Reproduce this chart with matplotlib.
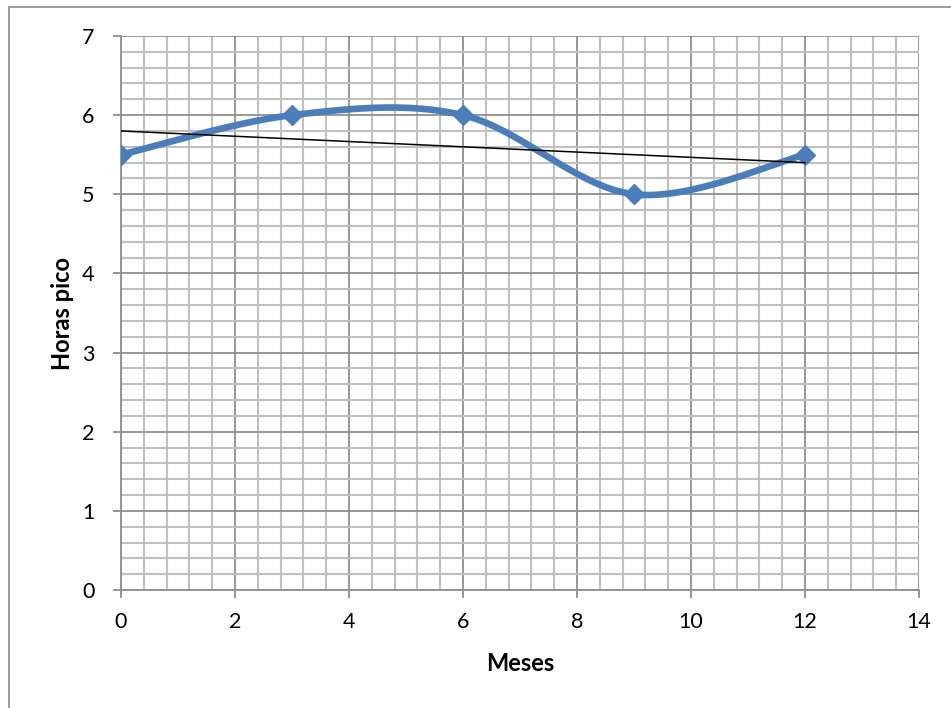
import numpy as np
import matplotlib
matplotlib.use("Agg")
import matplotlib.pyplot as plt
from matplotlib.patches import Rectangle
from matplotlib.ticker import MultipleLocator

meses = [0, 3, 6, 9, 12]
horas = [5.5, 6.0, 6.0, 5.0, 5.5]
x_label = "Meses"
y_label = "Horas pico"

plt.rcParams['font.family'] = ['Lato', 'DejaVu Sans']

W, H = 951, 708
fig = plt.figure(figsize=(W / 100, H / 100), dpi=100)
L, R, T, B = 121, 919, 36, 590
ax = fig.add_axes([L / W, 1 - B / H, (R - L) / W, (B - T) / H])

# figure border (chart area)
fig.patches.append(Rectangle((9 / W, -0.1), 1.2, 1 - 7 / H + 0.1, transform=fig.transFigure,
                             fill=False, edgecolor='#8c8c8c', lw=1.2))


def excel_smooth(xs, ys, n=60):
    P = np.column_stack([xs, ys]).astype(float)
    out = []
    m = len(P)
    for i in range(m - 1):
        p0 = P[i]
        p3 = P[i + 1]
        pm = P[i - 1] if i > 0 else P[i]
        pp = P[i + 2] if i + 2 < m else P[i + 1]
        p1 = p0 + (p3 - pm) / 6.0
        p2 = p3 - (pp - p0) / 6.0
        t = np.linspace(0, 1, n)[:, None]
        seg = ((1 - t) ** 3) * p0 + 3 * ((1 - t) ** 2) * t * p1 + 3 * (1 - t) * t ** 2 * p2 + t ** 3 * p3
        out.append(seg if i == 0 else seg[1:])
    s = np.vstack(out)
    return s[:, 0], s[:, 1]


sx, sy = excel_smooth(meses, horas)
ax.plot(sx, sy, color='#4A7EBB', lw=4.8, solid_capstyle='round', zorder=3)
ax.plot(meses, horas, linestyle='none', marker='D', markersize=10.5,
        color='#4A7EBB', zorder=4)

coef = np.polyfit(meses, horas, 1)
tx = np.array([min(meses), max(meses)])
ax.plot(tx, np.polyval(coef, tx), color='black', lw=1.1, zorder=5)

ax.set_xlim(0, 14)
ax.set_ylim(0, 7)
ax.xaxis.set_major_locator(MultipleLocator(2))
ax.xaxis.set_minor_locator(MultipleLocator(0.4))
ax.yaxis.set_major_locator(MultipleLocator(1))
ax.yaxis.set_minor_locator(MultipleLocator(0.2))
ax.grid(which='minor', color='#c0c0c0', lw=1.5, zorder=0)
ax.grid(which='major', color='#8f8f8f', lw=1.3, zorder=1)
ax.set_axisbelow(True)

for s in ['top', 'right']:
    ax.spines[s].set_visible(False)
for s in ['left', 'bottom']:
    ax.spines[s].set_color('#8f8f8f')
    ax.spines[s].set_linewidth(1.3)

ax.tick_params(which='major', direction='out', length=6, width=1.3, color='#8f8f8f',
               labelsize=15.5, pad=10)
ax.tick_params(which='minor', length=0)
ax.tick_params(axis='y', pad=13)

ax.set_xlabel(x_label, fontsize=17, fontweight='bold', labelpad=14)
ax.set_ylabel(y_label, fontsize=17, fontweight='bold', labelpad=6)

fig.savefig('out.png', dpi=100)
